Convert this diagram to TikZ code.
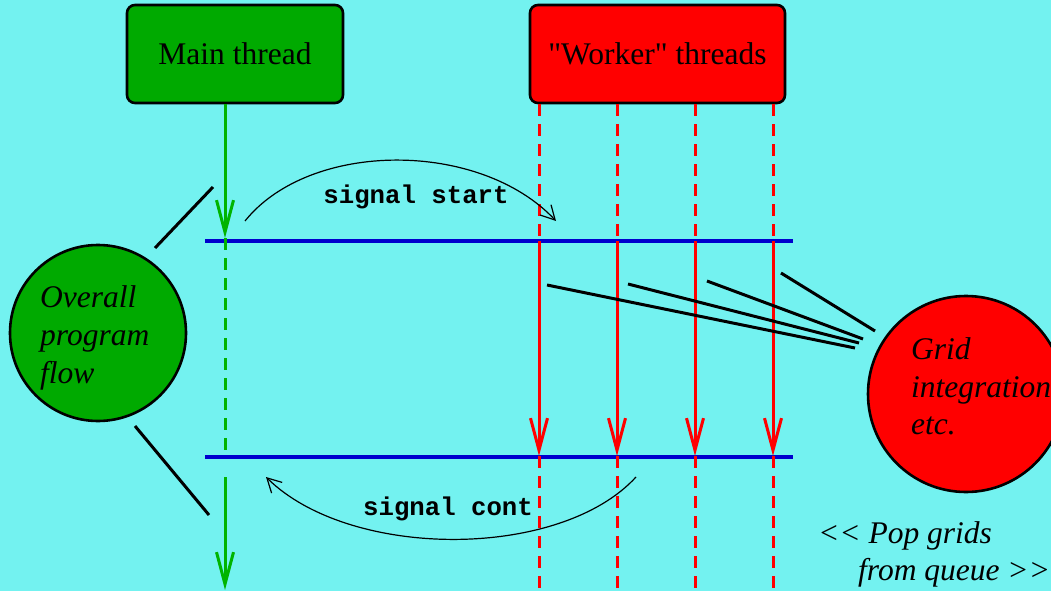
\documentclass[tikz,border=0pt]{standalone}
\usepackage{fontspec}
\setmainfont{Liberation Serif}[Ligatures=TeXOff]
\setmonofont{Liberation Mono}
\usetikzlibrary{arrows.meta}
\definecolor{bgcyan}{RGB}{115,242,240}
\definecolor{mgreen}{RGB}{0,170,0}
\definecolor{lgreen}{RGB}{0,180,0}
\definecolor{mred}{RGB}{255,0,0}
\definecolor{mblue}{RGB}{0,0,205}
\tikzset{
  box/.style={draw=black, line width=2.6pt, rounded corners=8pt, inner sep=0pt,
    font=\fontsize{31.5}{36}\selectfont},
  bubble/.style={draw=black, line width=2.6pt, circle, inner sep=0pt},
  itext/.style={anchor=base west, inner sep=0pt, font=\fontsize{31.5}{36}\selectfont\itshape},
  mtext/.style={anchor=base, inner sep=0pt, font=\fontsize{25.7}{30}\selectfont\ttfamily\bfseries},
  bigtip/.style={-{Straight Barb[length=32pt,width=17pt]}},
  gline/.style={draw=lgreen, line width=3pt},
  rline/.style={draw=mred, line width=3pt},
  dashpat/.style={dash pattern=on 12pt off 8pt},
  bline/.style={draw=mblue, line width=3.2pt},
  pointer/.style={draw=black, line width=3pt},
  sig/.style={draw=black, line width=1.2pt, -{Straight Barb[length=14pt,width=15pt]}}
}
\begin{document}
\begin{tikzpicture}[x=1pt,y=-1pt]
\fill[bgcyan] (0,0) rectangle (1051,591);
\useasboundingbox (0,0) rectangle (1051,591);

% boxes
\node[box, fill=mgreen, minimum width=216pt, minimum height=98pt] (main) at (235,54) {Main thread};
\node[box, fill=mred, minimum width=255pt, minimum height=98pt] (worker) at (657.5,54) {"Worker" threads};

% circles
\node[bubble, fill=mgreen, minimum size=176pt] (flow) at (98,333) {};
\node[bubble, fill=mred, minimum size=196pt] (grid) at (966,394) {};

% circle texts
\node[itext] (t1) at (40,307) {Overall};
\node[itext] (t2) at (40,345) {program};
\node[itext] (t3) at (40,383) {flow};
\node[itext] (g1) at (911,359) {Grid};
\node[itext] (g2) at (911,397) {integration};
\node[itext] (g3) at (911,434) {etc.};
\node[itext] (q1) at (818,543) {<< Pop grids};
\node[itext] (q2) at (858,580) {from queue >>};

% blue lines
\coordinate (b1w) at (205,241); \coordinate (b1e) at (793,241);
\coordinate (b2w) at (205,457); \coordinate (b2e) at (793,457);
\draw[bline] (b1w) -- (b1e);
\draw[bline] (b2w) -- (b2e);

% green main line
\coordinate (g0) at (225,104);
\coordinate (ga) at (225,238);
\coordinate (gb) at (225,457);
\coordinate (gc) at (225,477);
\coordinate (gd) at (225,590);
\draw[gline, bigtip] (g0) -- (ga);
\draw[gline, dashpat] (ga) -- (gb);
\draw[gline, bigtip] (gc) -- (gd);

% red worker lines
\foreach \x/\n in {539/a,617/b,695/c,773/d}{
  \coordinate (r\n0) at (\x,104);
  \coordinate (r\n1) at (\x,241);
  \coordinate (r\n2) at (\x,456);
  \coordinate (r\n3) at (\x,591);
  \draw[rline, dashpat] (r\n0) -- (r\n1);
  \draw[rline, bigtip] (r\n1) -- (r\n2);
  \draw[rline, dashpat] (r\n2) -- (r\n3);
}

% signals
\coordinate (s0) at (245,221);
\coordinate (s1) at (556,221);
\draw[sig] (s0) .. controls (310,140) and (480,140) .. (s1);
\node[mtext] (sl) at (416,203) {signal start};
\coordinate (c0) at (636,477);
\coordinate (c1) at (266,477);
\draw[sig] (c0) .. controls (560,560) and (350,560) .. (c1);
\node[mtext] (cl) at (448,515) {signal cont};

% pointer lines
\coordinate (f1a) at (155,248); \coordinate (f1b) at (213,187);
\coordinate (f2a) at (135,426); \coordinate (f2b) at (209,515);
\draw[pointer] (f1a) -- (f1b);
\draw[pointer] (f2a) -- (f2b);

\coordinate (p1a) at (547,285); \coordinate (p1b) at (855,348);
\coordinate (p2a) at (628,284); \coordinate (p2b) at (859,343);
\coordinate (p3a) at (707,281); \coordinate (p3b) at (863,339);
\coordinate (p4a) at (781,273); \coordinate (p4b) at (875,331);
\draw[pointer] (p1a) -- (p1b);
\draw[pointer] (p2a) -- (p2b);
\draw[pointer] (p3a) -- (p3b);
\draw[pointer] (p4a) -- (p4b);
\end{tikzpicture}
\end{document}
